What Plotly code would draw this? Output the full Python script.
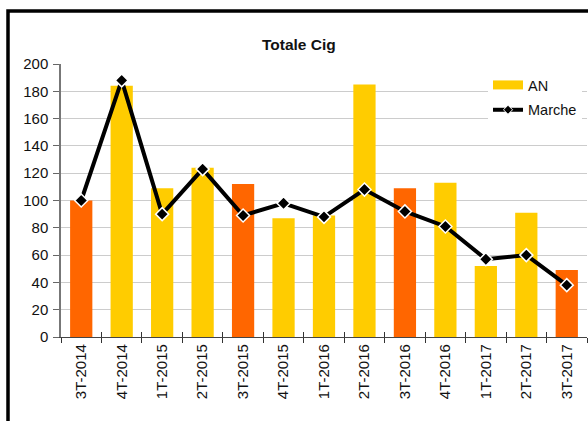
import plotly.graph_objects as go

# Quarterly totals
categories = ["3T-2014", "4T-2014", "1T-2015", "2T-2015", "3T-2015", "4T-2015",
              "1T-2016", "2T-2016", "3T-2016", "4T-2016", "1T-2017", "2T-2017", "3T-2017"]
an_values = [100, 184, 109, 124, 112, 87, 89, 185, 109, 113, 52, 91, 49]
marche_values = [100, 188, 90, 123, 89, 98, 88, 108, 92, 81, 57, 60, 38]
y_ticks = [0, 20, 40, 60, 80, 100, 120, 140, 160, 180, 200]

YELLOW = "#FFCC00"
ORANGE = "#FF6600"
FONT = "Liberation Sans, Arial, sans-serif"

# third quarters are highlighted in orange
bar_colors = [ORANGE if c.startswith("3T") else YELLOW for c in categories]

W, H = 588, 421
ML, MR, MT, MB = 61, 1, 64, 84
PW, PH = W - ML - MR, H - MT - MB


def px_x(p):
    return (p - ML) / PW


def px_y(p):
    return (H - MB - p) / PH


fig = go.Figure()

fig.add_trace(go.Bar(
    x=categories, y=an_values,
    marker=dict(color=bar_colors, line=dict(width=0)),
    width=0.55, showlegend=False, name="AN",
))

fig.add_trace(go.Scatter(
    x=categories, y=marche_values, mode="lines+markers", name="Marche",
    xaxis="x2", showlegend=False,
    line=dict(color="black", width=4),
    marker=dict(symbol="diamond", size=10, color="black",
                line=dict(color="white", width=1.5)),
))

# legend entries
fig.add_trace(go.Scatter(
    x=[None], y=[None], mode="lines", name="AN",
    line=dict(color=YELLOW, width=9), legendgroup="a",
))
fig.add_trace(go.Scatter(
    x=[None], y=[None], mode="lines+markers", name="Marche",
    line=dict(color="black", width=4),
    marker=dict(symbol="diamond", size=7, color="black",
                line=dict(color="white", width=1)),
    legendgroup="b",
))

axis_font = dict(family=FONT, size=15, color="#111")

fig.update_layout(
    width=W, height=H,
    margin=dict(l=ML, r=MR, t=MT, b=MB, pad=0),
    paper_bgcolor="white", plot_bgcolor="white",
    font=dict(family=FONT, color="#111"),
    xaxis=dict(
        type="category", categoryorder="array", categoryarray=categories,
        range=[-0.5, len(categories) - 0.5],
        tickangle=-90, tickfont=axis_font,
        ticks="outside", ticklen=5, tickcolor="#333", tickwidth=1,
        tickson="boundaries",
        showline=True, linecolor="#444", linewidth=1.2,
        showgrid=False, zeroline=False,
    ),
    xaxis2=dict(
        type="category", categoryorder="array", categoryarray=categories,
        range=[-0.5, len(categories) - 0.5],
        overlaying="x", matches="x",
        ticks="inside", ticklen=5, tickcolor="#333", tickwidth=1,
        tickson="boundaries", showticklabels=False,
        showgrid=False, zeroline=False, showline=False,
    ),
    yaxis=dict(
        range=[0, 200], tickvals=y_ticks, tickfont=axis_font,
        ticks="outside", ticklen=6, tickcolor="#666", tickwidth=1,
        showline=True, linecolor="#777", linewidth=1.5,
        showgrid=True, gridcolor="#cccccc", gridwidth=1,
        zeroline=False, ticklabelstandoff=2,
    ),
    legend=dict(
        x=px_x(488), y=px_y(69), xanchor="left", yanchor="top",
        bgcolor="white", borderwidth=0,
        font=dict(family=FONT, size=14.5, color="#111"),
        tracegroupgap=3, traceorder="grouped",
    ),
    annotations=[dict(
        text="<b>Totale Cig</b>", xref="paper", yref="paper",
        x=px_x(299), y=px_y(44), xanchor="center", yanchor="middle",
        showarrow=False, font=dict(family=FONT, size=15.5, color="#111"),
    )],
    shapes=[dict(
        type="rect", xref="paper", yref="paper",
        x0=px_x(8), y0=px_y(H + 40), x1=px_x(W + 40), y1=px_y(11),
        line=dict(color="black", width=3.5), fillcolor="rgba(0,0,0,0)",
        layer="above",
    )],
)

fig.write_html("out.html")
